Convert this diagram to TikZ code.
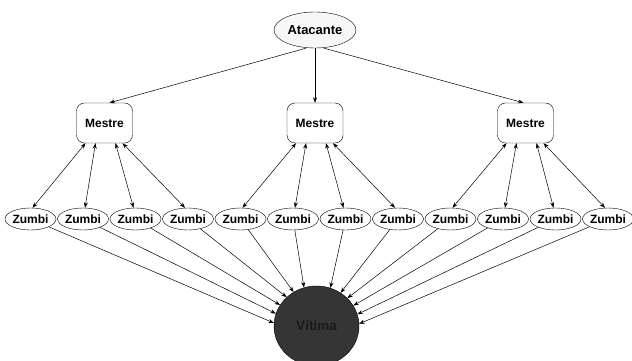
\documentclass[tikz,border=0pt]{standalone}
\usepackage{fontspec}
\setmainfont{Liberation Sans}
\usetikzlibrary{shapes.geometric,arrows.meta}
\definecolor{vic}{HTML}{353535}
\definecolor{victxt}{HTML}{1A1A1A}
\begin{document}
\begin{tikzpicture}[x=1pt,y=-1pt,
  every node/.style={inner sep=0pt,font=\bfseries\fontsize{12}{14}\selectfont},
  atk/.style={ellipse,draw,fill=gray!6,minimum width=82pt,minimum height=36pt,font=\bfseries\fontsize{13}{15}\selectfont},
  mst/.style={rectangle,rounded corners=8pt,draw,fill=white,minimum width=56pt,minimum height=40pt},
  zmb/.style={ellipse,draw,fill=white,minimum width=51pt,minimum height=22pt},
  vtm/.style={ellipse,draw,fill=vic,text=victxt,minimum width=85pt,minimum height=80pt,font=\bfseries\fontsize{13.5}{15}\selectfont},
  lnk/.style={line width=0.5pt,-{Stealth[length=5.5pt,width=4pt]}},
  dbl/.style={line width=0.5pt,{Stealth[length=5.5pt,width=4pt]}-{Stealth[length=5.5pt,width=4pt]}}]
\useasboundingbox (0,0) rectangle (632,361);
\node[atk] (a) at (315,30) {Atacante};
\node[mst] (m1) at (104.5,123) {Mestre};
\node[mst] (m2) at (315,123) {Mestre};
\node[mst] (m3) at (525.5,123) {Mestre};
\foreach \i in {1,...,12}{
  \node[zmb] (z\i) at ({30.5+52.5*(\i-1)},219) {Zumbi};
}
\node[vtm] (v) at (316.5,326) {Vítima};
\draw[lnk] ([xshift=-9pt]a.south) -- ([xshift=5pt]m1.north);
\draw[lnk] (a) -- (m2);
\draw[lnk] ([xshift=9pt]a.south) -- ([xshift=-2pt]m3.north);
\foreach \m/\s in {1/0,2/4,3/8}{
  \foreach \k/\o/\e in {1/-19/2,2/-9/2,3/11/-2,4/18/-3}{
    \pgfmathtruncatemacro{\zz}{\s+\k}
    \draw[dbl] ([xshift=\o pt]m\m.south) -- ([xshift=\e pt]z\zz.north);
  }
}
\foreach \i/\ang in {1/176,2/163,3/150,4/136,5/124,6/108,7/70,8/54,9/42,10/29,11/16,12/3}
  \draw[lnk] (z\i) -- (v.\ang);
\end{tikzpicture}
\end{document}
